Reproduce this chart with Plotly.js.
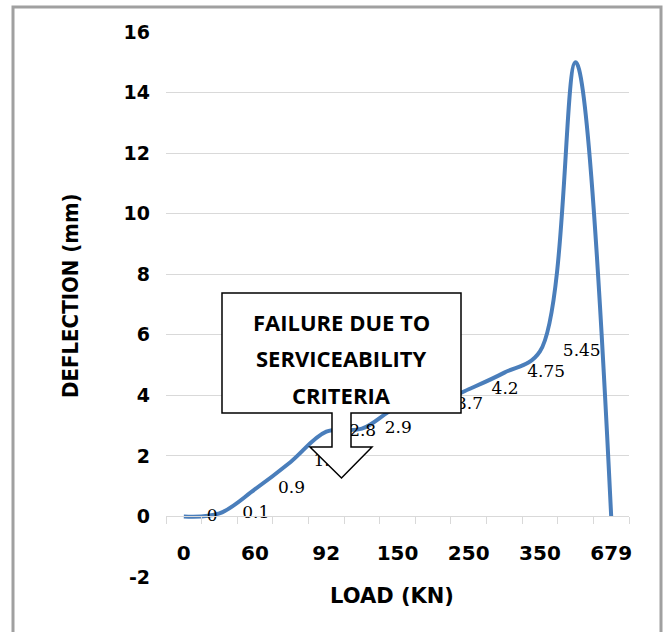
<!DOCTYPE html>
<html><head><meta charset="utf-8">
<script src="https://cdn.plot.ly/plotly-3.0.1.min.js"></script>
<style>html,body{margin:0;padding:0;background:#fff;overflow:hidden}</style>
</head><body><div id="chart" style="width:667px;height:632px"></div>
<script>
// ---- data ----
const loadStep = [0, 1, 2, 3, 4, 5, 6, 7, 8, 9, 10, 11, 12];
const deflection = [0, 0.1, 0.9, 1.8, 2.8, 2.9, 3.6, 3.7, 4.2, 4.75, 5.45, 15, 0];
const pointLabels = ['0', '0.1', '0.9', '1.8', '2.8', '2.9', '3.6', '3.7', '4.2', '4.75', '5.45', '', ''];
const loadTickSteps = [0, 2, 4, 6, 8, 10, 12];
const loadTickLabels = ['0', '60', '92', '150', '250', '350', '679'];
const deflectionTicks = [-2, 0, 2, 4, 6, 8, 10, 12, 14, 16];
const deflectionTickLabels = ['-2', '0', '2', '4', '6', '8', '10', '12', '14', '16'];
const calloutLines = ['FAILURE DUE TO', 'SERVICEABILITY', 'CRITERIA'];

// ---- layout geometry ----
const W = 667, H = 632, M = {l: 166, r: 38, t: 32, b: 55};
const PW = W - M.l - M.r, PH = H - M.t - M.b;
const px = v => (v - M.l) / PW;
const py = v => (H - M.b - v) / PH;

const sans = 'DejaVu Sans, Verdana, sans-serif';

const lineTrace = {
  type: 'scatter', mode: 'lines',
  x: loadStep, y: deflection,
  line: {color: '#4a7ebb', width: 4, shape: 'spline', smoothing: 1},
  hoverinfo: 'skip', showlegend: false, cliponaxis: false
};
const labelTrace = {
  type: 'scatter', mode: 'markers+text',
  x: loadStep, y: deflection, text: pointLabels,
  textposition: 'middle right',
  textfont: {family: 'DejaVu Serif, serif', size: 17, color: '#000'},
  marker: {size: 35, color: 'rgba(0,0,0,0)'},
  hoverinfo: 'skip', showlegend: false, cliponaxis: false
};

// callout (box with down arrow) outline in pixel space
const calloutPts = [[222,293],[461,293],[461,413],[351,413],[351,447],[372,447],[341.5,478],[310,447],[332,447],[332,413],[222,413]];
const calloutPath = 'M' + calloutPts.map(p => px(p[0]).toFixed(5) + ',' + py(p[1]).toFixed(5)).join(' L') + ' Z';

const annotations = [
  {text: '<b>DEFLECTION (mm)</b>', textangle: -90, xref: 'paper', yref: 'paper',
   x: px(70), y: py(296), showarrow: false, xanchor: 'center', yanchor: 'middle',
   font: {family: 'DejaVu Sans Condensed, DejaVu Sans, sans-serif', size: 22, color: '#000'}},
  {text: '<b>LOAD (KN)</b>', xref: 'paper', yref: 'paper',
   x: px(391.5), y: py(596), showarrow: false, xanchor: 'center', yanchor: 'middle',
   font: {family: sans, size: 21, color: '#000'}}
];
const calloutY = [322, 358, 395];
calloutLines.forEach((t, i) => annotations.push({
  text: '<b>' + t + '</b>', xref: 'paper', yref: 'paper',
  x: px(341.5), y: py(calloutY[i]), showarrow: false, xanchor: 'center', yanchor: 'middle',
  font: {family: 'Open Sans, sans-serif', size: 22, color: '#000'}
}));

const layout = {
  width: W, height: H,
  margin: M,
  paper_bgcolor: '#fff', plot_bgcolor: 'rgba(0,0,0,0)',
  showlegend: false,
  xaxis: {
    range: [-0.5, 12.5], anchor: 'free', position: 2 / 18,
    tickmode: 'array', tickvals: loadTickSteps, ticktext: loadTickLabels,
    ticks: '', showgrid: false, zeroline: false,
    showline: true, linecolor: '#d9d9d9', linewidth: 1,
    ticklabelstandoff: 19,
    tickfont: {family: sans, size: 20, color: '#000', weight: 'bold'},
    minor: {tickmode: 'linear', tick0: 0.5, dtick: 1, ticks: 'outside', ticklen: 7,
            tickcolor: '#d9d9d9', tickwidth: 1, showgrid: false}
  },
  yaxis: {
    range: [-2, 16], tickmode: 'array', tickvals: deflectionTicks, ticktext: deflectionTickLabels,
    ticks: '', showgrid: true, gridcolor: '#d9d9d9', gridwidth: 1,
    zeroline: false, showline: false,
    ticklabelstandoff: 15,
    tickfont: {family: sans, size: 19, color: '#000', weight: 'bold'}
  },
  shapes: [
    {type: 'rect', xref: 'paper', yref: 'paper', x0: px(13), x1: px(661), y0: py(650), y1: py(7),
     line: {color: '#a0a0a0', width: 3}, fillcolor: 'rgba(0,0,0,0)', layer: 'below'},
    {type: 'path', xref: 'paper', yref: 'paper', path: calloutPath,
     line: {color: '#000', width: 1.5}, fillcolor: '#fff', layer: 'above'}
  ],
  annotations: annotations
};

Plotly.newPlot('chart', [lineTrace, labelTrace], layout, {displayModeBar: false, staticPlot: true});
</script>
</body></html>
